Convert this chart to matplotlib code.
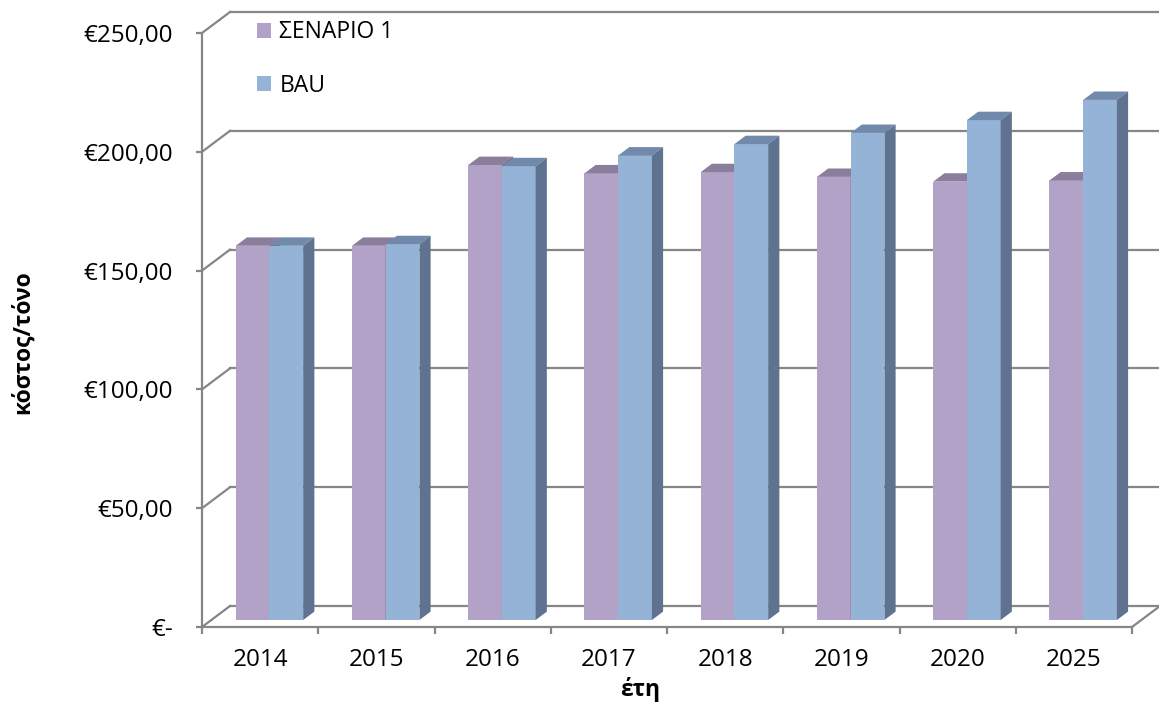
import matplotlib
matplotlib.use("Agg")
import matplotlib.pyplot as plt
from matplotlib.patches import Polygon, Patch
from matplotlib.ticker import FixedLocator

plt.rcParams['font.family'] = ['Open Sans', 'DejaVu Sans']

years = ["2014", "2015", "2016", "2017", "2018", "2019", "2020", "2025"]
scenario1 = [157.5, 157.5, 191.5, 188.0, 188.5, 186.5, 184.5, 185.0]
bau = [157.5, 158.2, 191.0, 195.5, 200.3, 205.0, 210.4, 218.9]
series_names = ["ΣΕΝΑΡΙΟ 1", "BAU"]
ytick_values = [0, 50, 100, 150, 200, 250]
ytick_labels = ["€-", "€50,00", "€100,00", "€150,00", "€200,00", "€250,00"]

W, H = 1159, 704
grid_c = "#868686"
# (front, top, side) colours per series
colours = [("#B3A2C7", "#8B7E9D", "#6F6380"),
           ("#95B3D7", "#7189AA", "#5F7290")]

fig = plt.figure(figsize=(W / 100, H / 100), dpi=100)
# front plane of the 3D box, in pixels: x 202..1132, y 627 (0) .. 33 (250)
ax = fig.add_axes([202 / W, (H - 627) / H, 930 / W, 594 / H])
ax.set_xlim(0, 8)
ax.set_ylim(0, 250)

# depth of the box in data units
DX = 28 / 116.25
DY = 21 / 2.376

# back wall gridlines + side wall diagonals
for v in ytick_values:
    ax.plot([DX, 8 + DX], [v + DY, v + DY], color=grid_c, lw=1.6, zorder=1, clip_on=False)
    ax.plot([0, DX], [v, v + DY], color=grid_c, lw=1.6, zorder=1, clip_on=False)
ax.plot([8, 8 + DX], [0, DY], color=grid_c, lw=1.6, zorder=1, clip_on=False)

# bars
w = 0.29
f0, fd = 0.333, 0.40
xo, yo = f0 * DX, f0 * DY
bdx, bdy = fd * DX, fd * DY
for i in range(len(years)):
    for s, vals in enumerate([scenario1, bau]):
        front, top, side = colours[s]
        xl = i + 0.5 - w + s * w + xo
        y0, y1 = yo, yo + vals[i]
        z = 3 + i * 2 + s
        ax.add_patch(Polygon([(xl, y0), (xl + w, y0), (xl + w, y1), (xl, y1)],
                             closed=True, fc=front, ec="none", zorder=z, clip_on=False))
        ax.add_patch(Polygon([(xl, y1), (xl + w, y1), (xl + w + bdx, y1 + bdy), (xl + bdx, y1 + bdy)],
                             closed=True, fc=top, ec="none", zorder=z, clip_on=False))
        ax.add_patch(Polygon([(xl + w, y0), (xl + w + bdx, y0 + bdy), (xl + w + bdx, y1 + bdy), (xl + w, y1)],
                             closed=True, fc=side, ec="none", zorder=z, clip_on=False))

# axes
for sp in ["top", "right"]:
    ax.spines[sp].set_visible(False)
for sp in ["left", "bottom"]:
    ax.spines[sp].set_color(grid_c)
    ax.spines[sp].set_linewidth(1.6)
    ax.spines[sp].set_zorder(2)

ax.set_yticks(ytick_values)
ax.set_yticklabels(ytick_labels, fontsize=17.5)
ax.tick_params(axis="y", direction="out", length=4, width=1.6, color=grid_c, pad=17)

ax.set_xticks(range(len(years) + 1))
ax.set_xticklabels([])
ax.xaxis.set_minor_locator(FixedLocator([i + 0.5 for i in range(len(years))]))
ax.set_xticklabels(years, minor=True, fontsize=17.5)
ax.tick_params(axis="x", which="minor", length=0, pad=15)
ax.tick_params(axis="x", which="major", direction="out", length=5, width=1.6, color=grid_c)

fig.text(23 / W, 1 - 342 / H, "κόστος/τόνο", rotation=90, ha="center", va="center",
         fontsize=16.5, fontweight="bold")
fig.text(640 / W, 1 - 689 / H, "έτη", ha="center", va="center",
         fontsize=16.5, fontweight="bold")

handles = [Patch(fc=colours[s][0], ec="none") for s in range(2)]
fig.legend(handles, series_names, loc="upper left", bbox_to_anchor=(248 / W, 1 - 11 / H),
           frameon=False, fontsize=16.5, handlelength=0.62, handleheight=0.62,
           handletextpad=0.35, labelspacing=1.3, borderaxespad=0)

fig.savefig("out.png", dpi=100)
